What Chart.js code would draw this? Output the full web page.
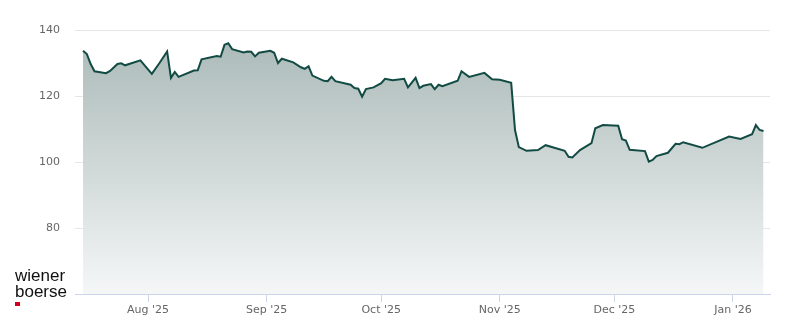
<!DOCTYPE html>
<html lang="en">
<head>
  <meta charset="UTF-8">
  <title>Share price</title>
  <script src="https://cdn.jsdelivr.net/npm/chart.js"></script>
  <style>
    html, body {
      margin: 0;
      padding: 0;
      background: #fff;
    }
    #wrap {
      position: relative;
      width: 800px;
      height: 324px;
    }
    .logo {
      position: absolute;
      left: 15px;
      top: 268px;
      font-family: "Liberation Sans", Arial, sans-serif;
      font-size: 17px;
      line-height: 16px;
      color: #111;
    }
    .logo-dot {
      position: absolute;
      left: 15px;
      top: 302px;
      width: 5px;
      height: 4px;
      background: #d0021b;
    }
  </style>
</head>
<body>
  <div id="wrap">
    <canvas id="chart" width="800" height="324"></canvas>
    <div class="logo">wiener<br>boerse</div>
    <div class="logo-dot"></div>
  </div>

  <script>
    // closing prices
    const dates = [
      '2025-07-15', '2025-07-16', '2025-07-17', '2025-07-18', '2025-07-21', '2025-07-22',
      '2025-07-24', '2025-07-25', '2025-07-26', '2025-07-30', '2025-08-02', '2025-08-04',
      '2025-08-06', '2025-08-07', '2025-08-08', '2025-08-09', '2025-08-13', '2025-08-14',
      '2025-08-15', '2025-08-19', '2025-08-20', '2025-08-21', '2025-08-22', '2025-08-23',
      '2025-08-26', '2025-08-27', '2025-08-28', '2025-08-29', '2025-08-30', '2025-09-02',
      '2025-09-03', '2025-09-04', '2025-09-05', '2025-09-08', '2025-09-10', '2025-09-11',
      '2025-09-12', '2025-09-13', '2025-09-16', '2025-09-17', '2025-09-18', '2025-09-19',
      '2025-09-23', '2025-09-24', '2025-09-25', '2025-09-26', '2025-09-27', '2025-09-29',
      '2025-10-01', '2025-10-02', '2025-10-04', '2025-10-07', '2025-10-08', '2025-10-10',
      '2025-10-11', '2025-10-12', '2025-10-14', '2025-10-15', '2025-10-16', '2025-10-17',
      '2025-10-21', '2025-10-22', '2025-10-24', '2025-10-28', '2025-10-30', '2025-11-01',
      '2025-11-04', '2025-11-05', '2025-11-06', '2025-11-08', '2025-11-11', '2025-11-13',
      '2025-11-18', '2025-11-19', '2025-11-20', '2025-11-22', '2025-11-25', '2025-11-26',
      '2025-11-28', '2025-12-02', '2025-12-03', '2025-12-04', '2025-12-05', '2025-12-09',
      '2025-12-10', '2025-12-11', '2025-12-12', '2025-12-15', '2025-12-17', '2025-12-18',
      '2025-12-19', '2025-12-24', '2025-12-31', '2026-01-03', '2026-01-06', '2026-01-07',
      '2026-01-08', '2026-01-09'
    ];
    const prices = [
      133.7, 132.7, 129.7, 127.5, 126.9, 127.5,
      129.7, 129.9, 129.3, 130.8, 126.7, 130.0,
      133.5, 125.5, 127.3, 125.8, 127.7, 127.8,
      131.1, 132.1, 131.9, 135.5, 136.0, 134.2,
      133.2, 133.5, 133.4, 132.0, 133.1, 133.7,
      133.1, 130.0, 131.3, 130.2, 128.7, 128.2,
      129.0, 126.2, 124.6, 124.5, 125.8, 124.5,
      123.4, 122.4, 122.2, 119.8, 122.1, 122.6,
      123.9, 125.2, 124.8, 125.2, 122.6, 125.5,
      122.4, 123.1, 123.6, 122.1, 123.4, 123.0,
      124.6, 127.5, 125.8, 127.0, 125.1, 124.9,
      124.0, 109.7, 104.5, 103.4, 103.6, 105.1,
      103.4, 101.6, 101.4, 103.6, 105.7, 110.2,
      111.2, 111.0, 106.9, 106.5, 103.7, 103.3,
      100.1, 100.6, 101.8, 102.8, 105.5, 105.4,
      106.0, 104.3, 107.7, 107.0, 108.4, 111.2,
      109.7, 109.4
    ];

    const tickDates = ['2025-08-01', '2025-09-01', '2025-10-01', '2025-11-01', '2025-12-01', '2026-01-01'];
    const tickLabels = ["Aug '25", "Sep '25", "Oct '25", "Nov '25", "Dec '25", "Jan '26"];
    const yTicks = [60, 80, 100, 120, 140];

    // days since 1 Jul 2025
    const origin = Date.UTC(2025, 6, 1);
    function dayNum(s) {
      const p = s.split('-').map(Number);
      return (Date.UTC(p[0], p[1] - 1, p[2]) - origin) / 86400000;
    }

    const points = dates.map((d, i) => ({ x: dayNum(d), y: prices[i] }));
    const tickDays = tickDates.map(dayNum);

    const ctx = document.getElementById('chart').getContext('2d');
    new Chart(ctx, {
      type: 'line',
      data: {
        datasets: [{
          data: points,
          borderColor: '#124b44',
          borderWidth: 2,
          pointRadius: 0,
          tension: 0,
          fill: 'start',
          backgroundColor: function (c) {
            const area = c.chart.chartArea;
            if (!area) return '#aabdbb';
            // opaque so the grid lines stay hidden under the area
            const g = c.chart.ctx.createLinearGradient(0, area.top, 0, area.bottom);
            g.addColorStop(0, 'rgb(168,184,182)');
            g.addColorStop(1, 'rgb(245,247,247)');
            return g;
          }
        }]
      },
      options: {
        responsive: false,
        animation: false,
        layout: { padding: { left: 0, right: 30, top: 30, bottom: 0 } },
        plugins: {
          legend: { display: false },
          tooltip: { enabled: false }
        },
        scales: {
          x: {
            type: 'linear',
            min: 11.9,
            max: 193.7,
            afterBuildTicks: function (s) {
              s.ticks = tickDays.map(v => ({ value: v }));
            },
            afterFit: function (s) { s.height = 30; },
            grid: {
              drawOnChartArea: false,
              drawTicks: true,
              tickLength: 8,
              color: '#ccd6eb'
            },
            border: { color: '#ccd6eb', width: 1 },
            ticks: {
              autoSkip: false,
              maxRotation: 0,
              padding: 2,
              color: '#666666',
              font: { family: 'DejaVu Sans', size: 11 },
              callback: function (v) {
                const i = tickDays.indexOf(v);
                return i >= 0 ? tickLabels[i] : '';
              }
            }
          },
          y: {
            min: 60,
            max: 140,
            afterBuildTicks: function (s) {
              s.ticks = yTicks.map(v => ({ value: v }));
            },
            afterFit: function (s) { s.width = 75; },
            grid: { color: '#e6e6e6', drawTicks: false },
            border: { display: false },
            ticks: {
              padding: 15,
              color: '#666666',
              font: { family: 'DejaVu Sans', size: 11 },
              callback: function (v) { return v === 60 ? '' : v; }
            }
          }
        }
      }
    });
  </script>
</body>
</html>
